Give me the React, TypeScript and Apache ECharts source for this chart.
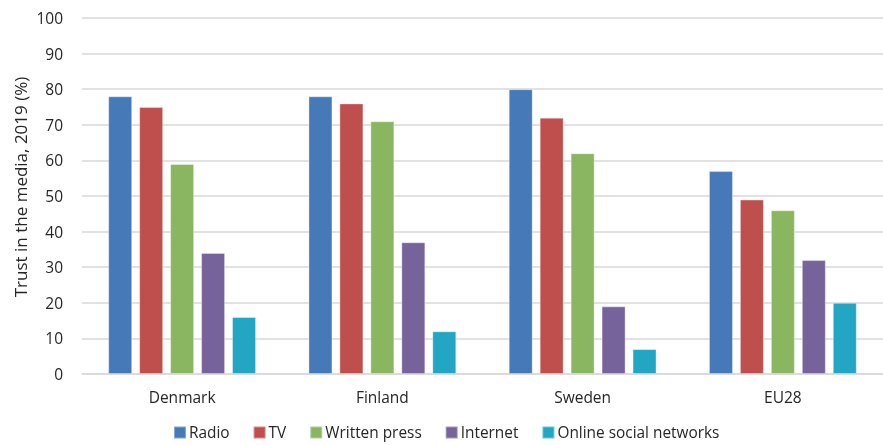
import React, { useEffect, useRef } from "react";
import * as echarts from "echarts";

const countries = ["Denmark", "Finland", "Sweden", "EU28"];
const radio = [78, 78, 80, 57];
const tv = [75, 76, 72, 49];
const writtenPress = [59, 71, 62, 46];
const internet = [34, 37, 19, 32];
const socialNetworks = [16, 12, 7, 20];
const yTicks = [0, 10, 20, 30, 40, 50, 60, 70, 80, 90, 100];
const yTitle = "Trust in the media, 2019 (%)";

const seriesDefs = [
  { name: "Radio", data: radio, color: "#4579b8" },
  { name: "TV", data: tv, color: "#be4f4d" },
  { name: "Written press", data: writtenPress, color: "#8ab661" },
  { name: "Internet", data: internet, color: "#77639b" },
  { name: "Online social networks", data: socialNetworks, color: "#22a6c3" },
];

const FONT = "Open Sans";
const TEXT = "#262626";

export default function App() {
  const ref = useRef<HTMLDivElement>(null);

  useEffect(() => {
    if (!ref.current) return;
    const chart = echarts.init(ref.current, undefined, { renderer: "svg" });
    chart.setOption({
      animation: false,
      textStyle: { fontFamily: FONT },
      grid: { left: 82, right: -3, top: 18, bottom: 71, containLabel: false },
      graphic: [
        {
          type: "text",
          x: 20,
          y: 187,
          rotation: Math.PI / 2,
          style: {
            text: yTitle,
            fontFamily: FONT,
            fontSize: 17,
            fill: TEXT,
            align: "center",
            verticalAlign: "middle",
          },
        },
      ],
      legend: {
        top: 425,
        left: 173,
        padding: 0,
        itemWidth: 12,
        itemHeight: 12,
        itemGap: 23,
        icon: "rect",
        textStyle: {
          fontFamily: FONT,
          fontSize: 15.4,
          lineHeight: 14,
          color: TEXT,
          padding: [0, 0, 0, -2],
        },
        data: seriesDefs.map((s) => s.name),
      },
      xAxis: {
        type: "category",
        data: countries,
        axisLine: { show: true, lineStyle: { color: "#d9d9d9", width: 1.5 } },
        axisTick: { show: false },
        axisLabel: { fontFamily: FONT, fontSize: 15.5, color: TEXT, margin: 15 },
      },
      yAxis: {
        type: "value",
        min: yTicks[0],
        max: yTicks[yTicks.length - 1],
        interval: 10,
        axisLine: { show: false },
        axisTick: { show: false },
        axisLabel: { fontFamily: FONT, fontSize: 15.5, color: TEXT, margin: 19 },
        splitLine: { lineStyle: { color: "#d9d9d9", width: 1.5 } },
      },
      series: seriesDefs.map((s) => ({
        name: s.name,
        type: "bar",
        data: s.data,
        barWidth: 24,
        barGap: "29%",
        itemStyle: { color: s.color, borderColor: "rgba(255,255,255,0.35)", borderWidth: 1 },
      })),
    });
    return () => chart.dispose();
  }, []);

  return (
    <div
      ref={ref}
      style={{ position: "fixed", left: 0, top: 0, width: 883, height: 445 }}
    />
  );
}
